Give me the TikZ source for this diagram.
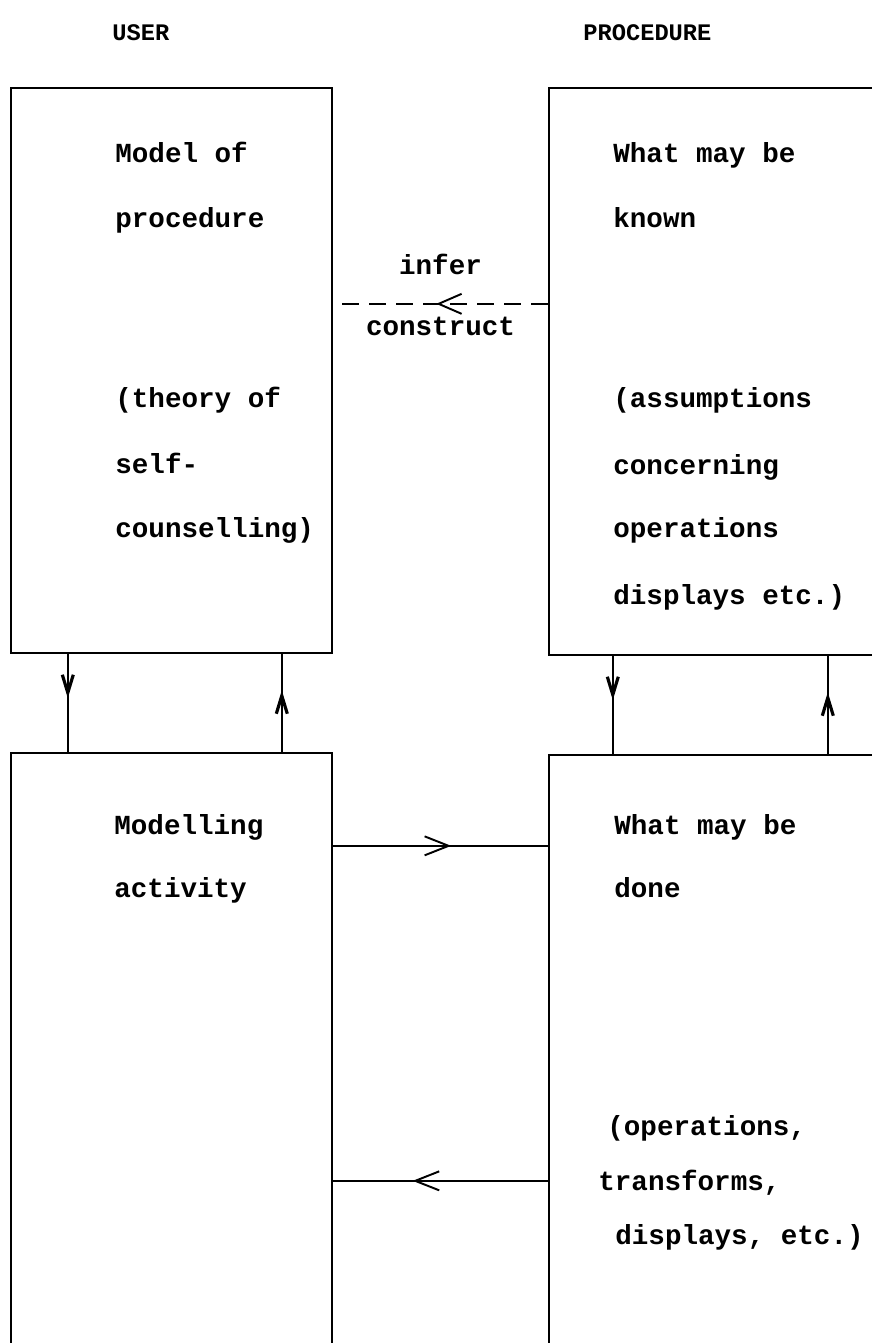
\documentclass[tikz,border=0pt]{standalone}
\usepackage{fontspec}
\setmonofont{Liberation Mono}
\usetikzlibrary{arrows.meta}
\usetikzlibrary{decorations.markings}
\usetikzlibrary{calc}

\tikzset{
    box/.style = {draw, line width=1.4pt, inner sep=0pt},
    txt/.style = {anchor=base west, inner sep=0pt, font=\ttfamily\bfseries\fontsize{15.7}{19}\selectfont},
    lbl/.style = {inner sep=0pt, font=\ttfamily\bfseries\fontsize{15.7}{19}\selectfont},
    head/.style = {anchor=base west, inner sep=0pt, font=\ttfamily\bfseries\fontsize{13.5}{16}\selectfont},
    link/.style = {line width=1.1pt},
    midarrow/.style = {postaction={decorate},
        decoration={markings, mark=at position #1 with {\arrow{>}}}}
}

\begin{document}
\begin{tikzpicture}[x=0.02cm, y=-0.02cm, >={Straight Barb[length=4.8mm, width=3.8mm]}]

    \useasboundingbox (0,0) rectangle (872,1343);

    % column heads
    \node[head] (user) at (112,40) {USER};
    \node[head] (proc) at (583,40) {PROCEDURE};

    % the four boxes (right and bottom edges run off the page)
    \node[box, minimum width=6.42cm, minimum height=11.3cm] (model) at (171.5,370.5) {};
    \node[box, minimum width=6.62cm, minimum height=11.34cm] (known) at (714.5,371.5) {};
    \node[box, minimum width=6.42cm, minimum height=12.14cm] (activity) at (171.5,1056.5) {};
    \node[box, minimum width=6.62cm, minimum height=12.1cm] (done) at (714.5,1057.5) {};

    % user side
    \node[txt] (m1) at (115,162) {Model of};
    \node[txt] (m2) at (115,227) {procedure};
    \node[txt] (m3) at (115,407) {(theory of};
    \node[txt] (m4) at (115,473) {self-};
    \node[txt] (m5) at (115,537) {counselling)};

    \node[txt] (a1) at (114,834) {Modelling};
    \node[txt] (a2) at (114,897) {activity};

    % procedure side
    \node[txt] (k1) at (613,162) {What may be};
    \node[txt] (k2) at (613,227) {known};
    \node[txt] (k3) at (613,407) {(assumptions};
    \node[txt] (k4) at (613,474) {concerning};
    \node[txt] (k5) at (613,537) {operations};
    \node[txt] (k6) at (613,604) {displays etc.)};

    \node[txt] (d1) at (614,834) {What may be};
    \node[txt] (d2) at (614,897) {done};
    \node[txt] (d3) at (607,1135) {(operations,};
    \node[txt] (d4) at (598,1190) {transforms,};
    \node[txt] (d5) at (615,1244) {displays, etc.)};

    % infer / construct
    \draw[link, dash pattern=on 3.4mm off 2mm, midarrow=0.52,
          >={Straight Barb[length=4.6mm, width=4mm]}]
        ($(known.north west)+(0,217)$) coordinate (dk) -- (dk -| model.east)
        node[lbl, midway, yshift=0.78cm] (infer) {infer}
        node[lbl, midway, yshift=-0.46cm] (construct) {construct};

    % between the upper and lower boxes
    \begin{scope}[>={Straight Barb[length=3.6mm, width=2.2mm, line width=1.8pt]}, link]
        \draw[midarrow=0.45] ($(model.south west)+(58,0)$) coordinate (s1) -- (s1 |- activity.north);
        \draw[midarrow=0.63] ($(activity.north west)+(272,0)$) coordinate (s2) -- (s2 |- model.south);
        \draw[midarrow=0.45] ($(known.south west)+(65,0)$) coordinate (s3) -- (s3 |- done.north);
        \draw[midarrow=0.63] ($(done.north west)+(280,0)$) coordinate (s4) -- (s4 |- known.south);
    \end{scope}

    % activity <-> what may be done
    \draw[link, midarrow=0.55] ($(activity.north east)+(0,94)$) coordinate (h1) -- (h1 -| done.west);
    \draw[link, midarrow=0.63] ($(done.north west)+(0,427)$) coordinate (h2) -- (h2 -| activity.east);

\end{tikzpicture}
\end{document}
